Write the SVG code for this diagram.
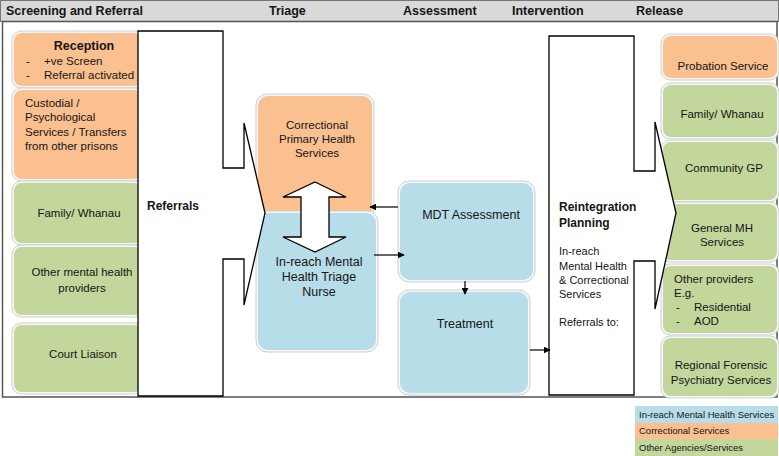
<svg xmlns="http://www.w3.org/2000/svg" width="779" height="456" viewBox="0 0 779 456">
<defs>
<style>
text{font-family:"Liberation Sans",Arial,sans-serif;fill:#151515;font-size:11.5px}
.hd{font-weight:bold;font-size:12.5px}
.b{font-weight:bold}
.c{text-anchor:middle}
.halo{fill:#f6f6f6;stroke:#cfcfcf;stroke-width:1}
.or{fill:#fac090}
.gr{fill:#c3d69b}
.bl{fill:#b7dde8}
.shape{fill:#fff;stroke:#000;stroke-width:1.3}
.ln{stroke:#000;stroke-width:1.2;fill:none}
.lg{font-size:9.5px}
</style>
<marker id="ah" viewBox="0 0 10 10" refX="9" refY="5" markerWidth="7" markerHeight="7" markerUnits="userSpaceOnUse" orient="auto">
<path d="M0,0 L10,5 L0,10 z" fill="#000"/>
</marker>
</defs>
<rect width="779" height="456" fill="#fff"/>
<!-- header -->
<g id="header">
<rect x="0.5" y="0.5" width="778" height="21" fill="#d9d9d9" stroke="#777"/>
<text class="hd" x="6" y="15">Screening and Referral</text>
<text class="hd" x="269" y="15">Triage</text>
<text class="hd" x="403" y="15">Assessment</text>
<text class="hd" x="512" y="15">Intervention</text>
<text class="hd" x="636" y="15">Release</text>
</g>
<rect x="2.5" y="21.5" width="774.5" height="375.5" fill="none" stroke="#555" stroke-width="1.5"/>

<!-- left column -->
<g id="reception">
<rect class="halo" x="12" y="31" width="132" height="57" rx="9"/>
<rect class="or" x="14" y="33" width="128" height="53" rx="8"/>
<text class="b c" x="84" y="50" style="font-size:12.5px">Reception</text>
<text x="26" y="65">-</text><text x="44" y="65">+ve Screen</text>
<text x="26" y="79">-</text><text x="44" y="79">Referral activated</text>
</g>
<g id="custodial">
<rect class="halo" x="12" y="88" width="132" height="93" rx="9"/>
<rect class="or" x="14" y="90" width="128" height="89" rx="8"/>
<text x="25" y="107">Custodial /</text>
<text x="25" y="121">Psychological</text>
<text x="25" y="136">Services / Transfers</text>
<text x="25" y="150">from other prisons</text>
</g>
<g id="family-left">
<rect class="halo" x="12" y="181" width="132" height="64" rx="9"/>
<rect class="gr" x="14" y="183" width="128" height="60" rx="8"/>
<text class="c" x="79" y="217">Family/ Whanau</text>
</g>
<g id="other-mh">
<rect class="halo" x="12" y="245" width="132" height="72" rx="9"/>
<rect class="gr" x="14" y="247" width="128" height="68" rx="8"/>
<text class="c" x="82" y="276">Other mental health</text>
<text class="c" x="82" y="292">providers</text>
</g>
<g id="court">
<rect class="halo" x="12" y="323" width="132" height="71" rx="9"/>
<rect class="gr" x="14" y="325" width="128" height="67" rx="8"/>
<text class="c" x="83" y="358">Court Liaison</text>
</g>

<!-- triage -->
<g id="correctional-primary">
<rect class="halo" x="256" y="94" width="118" height="126" rx="11"/>
<rect class="or" x="258" y="96" width="114" height="122" rx="10"/>
<text class="c" x="317" y="129">Correctional</text>
<text class="c" x="317" y="143">Primary Health</text>
<text class="c" x="317" y="157">Services</text>
</g>
<g id="inreach-nurse">
<rect class="halo" x="256" y="211" width="122" height="141" rx="11"/>
<rect class="bl" x="258" y="213" width="118" height="137" rx="10"/>
<text class="c" x="319" y="266" style="font-size:12.5px">In-reach Mental</text>
<text class="c" x="319" y="281" style="font-size:12.5px">Health Triage</text>
<text class="c" x="319" y="296" style="font-size:12.5px">Nurse</text>
</g>
<g id="double-arrow">
<polygon class="shape" points="315,182 346,197 329,197 329,237 346,237 315,252 283,237 301,237 301,197 283,197"/>
</g>

<!-- referrals shape -->
<g id="referrals">
<polygon class="shape" points="138,31 223,31 223,168 244,168 244,123 265,213 244,305 244,259 223,259 223,396 138,396"/>
<text class="b" x="147" y="210" style="font-size:12px">Referrals</text>
</g>

<!-- assessment -->
<g id="mdt">
<rect class="halo" x="398" y="181" width="137" height="101" rx="11"/>
<rect class="bl" x="400" y="183" width="133" height="97" rx="10"/>
<text class="c" x="471" y="219" style="font-size:12.5px">MDT Assessment</text>
</g>
<g id="treatment">
<rect class="halo" x="398" y="290" width="132" height="105" rx="11"/>
<rect class="bl" x="400" y="292" width="128" height="101" rx="10"/>
<text class="c" x="465" y="328" style="font-size:12.5px">Treatment</text>
</g>

<!-- right column -->
<g id="probation">
<rect class="halo" x="661" y="34" width="118" height="46" rx="9"/>
<rect class="or" x="663" y="36" width="114" height="42" rx="8"/>
<text class="c" x="723" y="70">Probation Service</text>
</g>
<g id="family-right">
<rect class="halo" x="661" y="83" width="118" height="56" rx="9"/>
<rect class="gr" x="663" y="85" width="114" height="52" rx="8"/>
<text class="c" x="722" y="118">Family/ Whanau</text>
</g>
<g id="community-gp">
<rect class="halo" x="661" y="140" width="118" height="62" rx="9"/>
<rect class="gr" x="663" y="142" width="114" height="58" rx="8"/>
<text class="c" x="724" y="172">Community GP</text>
</g>
<g id="general-mh">
<rect class="halo" x="661" y="202" width="118" height="60" rx="9"/>
<rect class="gr" x="663" y="204" width="114" height="56" rx="8"/>
<text class="c" x="722" y="232">General MH</text>
<text class="c" x="722" y="246">Services</text>
</g>
<g id="other-providers">
<rect class="halo" x="661" y="264" width="118" height="71" rx="9"/>
<rect class="gr" x="663" y="266" width="114" height="67" rx="8"/>
<text x="674" y="283">Other providers</text>
<text x="674" y="297">E.g.</text>
<text x="676" y="311">-</text><text x="694" y="311">Residential</text>
<text x="676" y="325">-</text><text x="694" y="325">AOD</text>
</g>
<g id="regional-forensic">
<rect class="halo" x="661" y="336" width="118" height="62" rx="9"/>
<rect class="gr" x="663" y="338" width="114" height="58" rx="8"/>
<text class="c" x="721" y="369">Regional Forensic</text>
<text class="c" x="721" y="384">Psychiatry Services</text>
</g>

<!-- reintegration shape -->
<g id="reintegration">
<polygon class="shape" points="549,36 634,36 634,171 655,171 655,122 676,213 655,309 655,261 634,261 634,395 549,395"/>
<text class="b" x="559" y="211" style="font-size:12px">Reintegration</text>
<text class="b" x="559" y="227" style="font-size:12px">Planning</text>
<text x="559" y="255" style="font-size:11px">In-reach</text>
<text x="559" y="270" style="font-size:11px">Mental Health</text>
<text x="559" y="284" style="font-size:11px">&amp; Correctional</text>
<text x="559" y="298" style="font-size:11px">Services</text>
<text x="559" y="326" style="font-size:11px">Referrals to:</text>
</g>

<!-- connectors -->
<g id="connectors">
<line class="ln" x1="398" y1="207" x2="370" y2="207" marker-end="url(#ah)"/>
<line class="ln" x1="374" y1="255" x2="404" y2="255" marker-end="url(#ah)"/>
<line class="ln" x1="465" y1="281" x2="465" y2="294" marker-end="url(#ah)"/>
<line class="ln" x1="530" y1="350" x2="550" y2="350" marker-end="url(#ah)"/>
</g>

<!-- legend -->
<g id="legend">
<rect class="bl" x="635" y="406" width="143" height="17"/>
<rect class="or" x="635" y="423" width="143" height="16"/>
<rect class="gr" x="635" y="439" width="143" height="17"/>
<text class="lg" x="639" y="418">In-reach Mental Health Services</text>
<text class="lg" x="639" y="434">Correctional Services</text>
<text class="lg" x="639" y="451">Other Agencies/Services</text>
</g>
</svg>
